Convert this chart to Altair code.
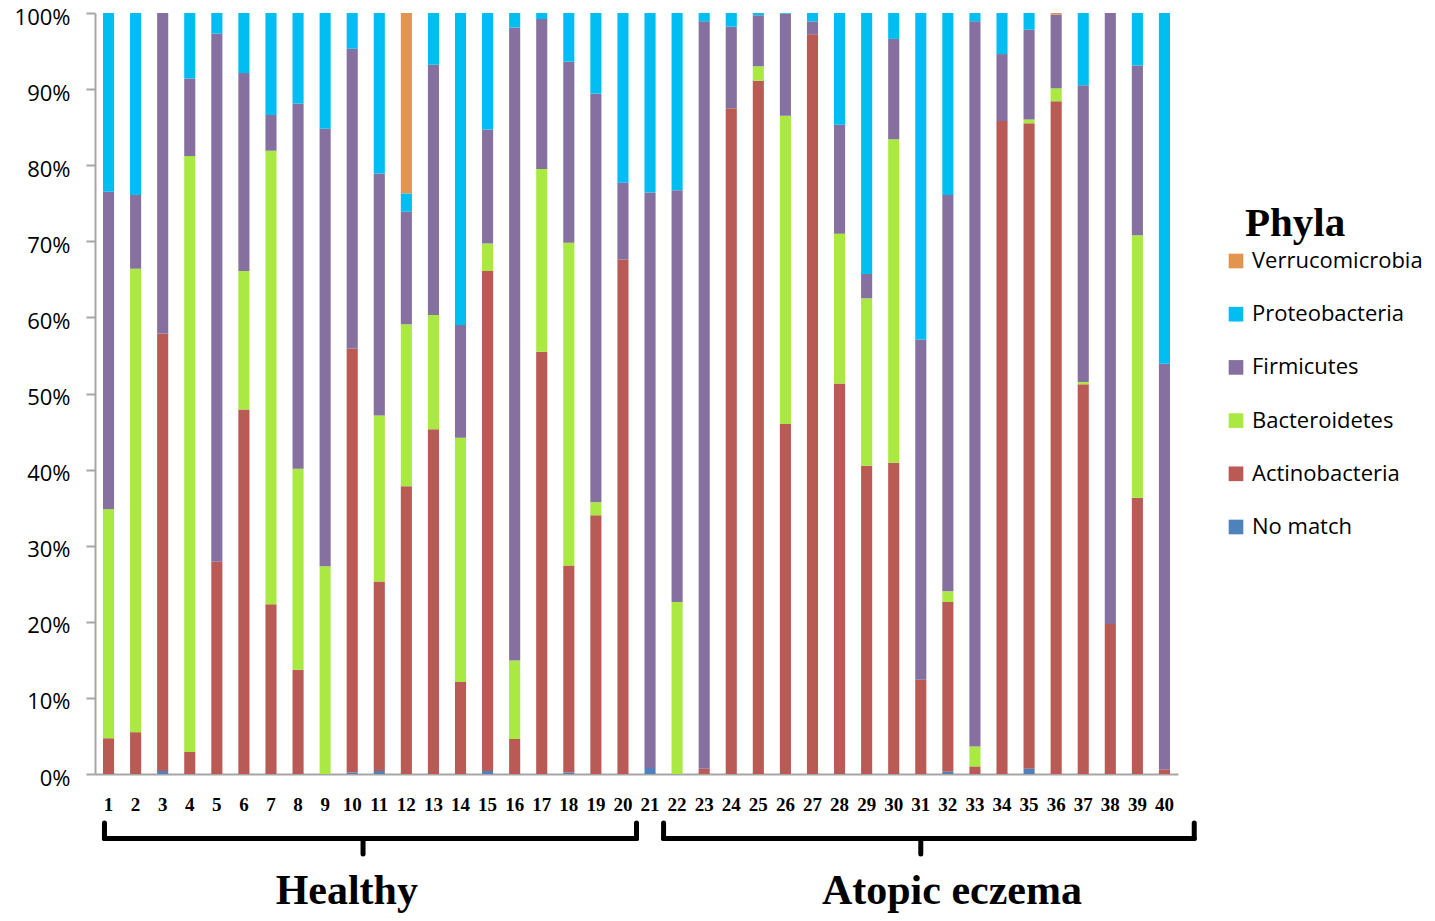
import altair as alt
import pandas as pd

samples = [str(i) for i in range(1, 41)]

phyla = ["Verrucomicrobia", "Proteobacteria", "Firmicutes", "Bacteroidetes", "Actinobacteria", "No match"]
colors = ["#E39550", "#00BEF2", "#8670A0", "#A9E942", "#BA5A55", "#4F82BD"]

no_match = [0, 0, 0.4, 0, 0, 0, 0, 0, 0, 0.2,
            0.4, 0, 0, 0, 0.4, 0, 0, 0.2, 0, 0,
            0.8, 0, 0, 0, 0, 0, 0, 0, 0, 0,
            0, 0.3, 0, 0, 0.7, 0, 0, 0, 0, 0]
actinobacteria = [4.7, 5.5, 57.5, 2.9, 27.9, 47.9, 22.3, 13.7, 0, 55.7,
                  24.9, 37.8, 45.3, 12.1, 65.7, 4.6, 55.5, 27.2, 34.0, 67.6,
                  0, 0, 0.7, 87.5, 91.1, 46.0, 97.2, 51.3, 40.5, 40.9,
                  12.4, 22.3, 1.0, 85.8, 84.8, 88.4, 51.2, 19.7, 36.3, 0.6]
bacteroidetes = [30.1, 60.9, 0, 78.3, 0, 18.2, 59.6, 26.4, 27.3, 0,
                 21.8, 21.3, 15.0, 32.1, 3.6, 10.3, 24.0, 42.4, 1.7, 0,
                 0, 22.6, 0, 0, 1.9, 40.5, 0, 19.7, 22.0, 42.5,
                 0, 1.4, 2.6, 0, 0.5, 1.7, 0.3, 0, 34.5, 0]
firmicutes = [41.7, 9.7, 42.1, 10.2, 69.4, 26.0, 4.7, 48.0, 57.5, 39.4,
              31.8, 14.8, 32.9, 14.8, 15.0, 83.2, 19.7, 23.8, 53.7, 10.1,
              75.6, 54.1, 98.2, 10.7, 6.7, 13.4, 1.7, 14.3, 3.2, 13.2,
              44.7, 52.1, 95.3, 8.8, 11.8, 9.7, 39.0, 80.3, 22.3, 53.3]
proteobacteria = [23.5, 23.9, 0, 8.6, 2.7, 7.9, 13.4, 11.9, 15.2, 4.7,
                  21.1, 2.4, 6.8, 41.0, 15.3, 1.9, 0.8, 6.4, 10.6, 22.3,
                  23.6, 23.3, 1.1, 1.8, 0.3, 0.1, 1.1, 14.7, 34.3, 3.4,
                  42.9, 23.9, 1.1, 5.4, 2.2, 0, 9.5, 0, 6.9, 46.1]
verrucomicrobia = [0, 0, 0, 0, 0, 0, 0, 0, 0, 0,
                   0, 23.7, 0, 0, 0, 0, 0, 0, 0, 0,
                   0, 0, 0, 0, 0, 0, 0, 0, 0, 0,
                   0, 0, 0, 0, 0, 0.2, 0, 0, 0, 0]

# groups (brace spans expressed in sample units on a 0..40 axis)
groups = ["Healthy", "Atopic eczema"]
brace_from = [0.35, 21.0]
brace_to = [20.0, 40.6]
brace_mid = [9.9, 30.5]
label_at = [9.3, 31.65]

series = {
    "No match": no_match,
    "Actinobacteria": actinobacteria,
    "Bacteroidetes": bacteroidetes,
    "Firmicutes": firmicutes,
    "Proteobacteria": proteobacteria,
    "Verrucomicrobia": verrucomicrobia,
}
stack_rank = {name: i for i, name in enumerate(series)}

rows = []
for name, vals in series.items():
    for s, v in zip(samples, vals):
        rows.append({"sample": s, "phylum": name, "value": v, "rank": stack_rank[name]})
df = pd.DataFrame(rows)

gdf = pd.DataFrame({"group": groups, "start": brace_from, "end": brace_to,
                    "mid": brace_mid, "lab": label_at})

W, H = 1083, 761

bars = alt.Chart(df).mark_bar().encode(
    x=alt.X("sample:N", sort=samples,
            scale=alt.Scale(paddingInner=0.59, paddingOuter=0.295),
            axis=alt.Axis(title=None, labelAngle=0, ticks=False, labelOverlap=False,
                          labelFont="Liberation Serif", labelFontWeight="bold",
                          labelFontSize=19, labelColor="black", labelPadding=21,
                          domainColor="#A6A6A6", domainWidth=2)),
    y=alt.Y("value:Q", stack="normalize",
            scale=alt.Scale(domain=[0, 1], nice=False),
            axis=alt.Axis(title=None, format=".0%", values=[i / 10 for i in range(11)],
                          grid=False, labelFont="Open Sans", labelFontSize=22,
                          labelColor="black", tickColor="#A6A6A6", tickSize=9,
                          tickWidth=2, domainColor="#A6A6A6", domainWidth=2,
                          labelPadding=16, labelOffset=4)),
    color=alt.Color("phylum:N", scale=alt.Scale(domain=phyla, range=colors),
                    legend=alt.Legend(title=None, orient="none", legendX=1130, legendY=237,
                                      padding=0, labelLimit=300,
                                      labelFont="Open Sans", labelFontSize=22,
                                      labelColor="black", labelOffset=5,
                                      symbolType="square", symbolSize=215,
                                      symbolStrokeWidth=0, rowPadding=31.2)),
    order=alt.Order("rank:Q", sort="ascending"),
)

legend_title = alt.Chart(pd.DataFrame({"t": ["Phyla"]})).mark_text(
    font="Liberation Serif", fontWeight="bold", fontSize=41, align="left",
    baseline="alphabetic", color="black"
).encode(x=alt.value(1150), y=alt.value(223), text="t:N")

xq = alt.Scale(domain=[0, 40], nice=False, zero=False)
rule = dict(color="black", strokeWidth=5, strokeCap="round")

hline = alt.Chart(gdf).mark_rule(**rule).encode(
    x=alt.X("start:Q", scale=xq, axis=None), x2="end:Q", y=alt.value(825.5))
lhook = alt.Chart(gdf).mark_rule(**rule).encode(
    x=alt.X("start:Q", scale=xq, axis=None), y=alt.value(810), y2=alt.value(825.5))
rhook = alt.Chart(gdf).mark_rule(**rule).encode(
    x=alt.X("end:Q", scale=xq, axis=None), y=alt.value(810), y2=alt.value(825.5))
mtick = alt.Chart(gdf).mark_rule(**rule).encode(
    x=alt.X("mid:Q", scale=xq, axis=None), y=alt.value(825.5), y2=alt.value(841))
labels = alt.Chart(gdf).mark_text(font="Liberation Serif", fontWeight="bold", fontSize=42,
                                  baseline="alphabetic", align="center", color="black").encode(
    x=alt.X("lab:Q", scale=xq, axis=None), y=alt.value(891), text="group:N")

chart = alt.layer(bars, legend_title, hline, lhook, rhook, mtick, labels).resolve_scale(
    x="independent"
).properties(
    width=W, height=H,
    autosize=alt.AutoSizeParams(type="none"),
    padding={"left": 87, "top": 5, "right": 248, "bottom": 139},
).configure_view(stroke=None)

chart.save("out.html", embed_options={"renderer": "svg", "actions": False})
